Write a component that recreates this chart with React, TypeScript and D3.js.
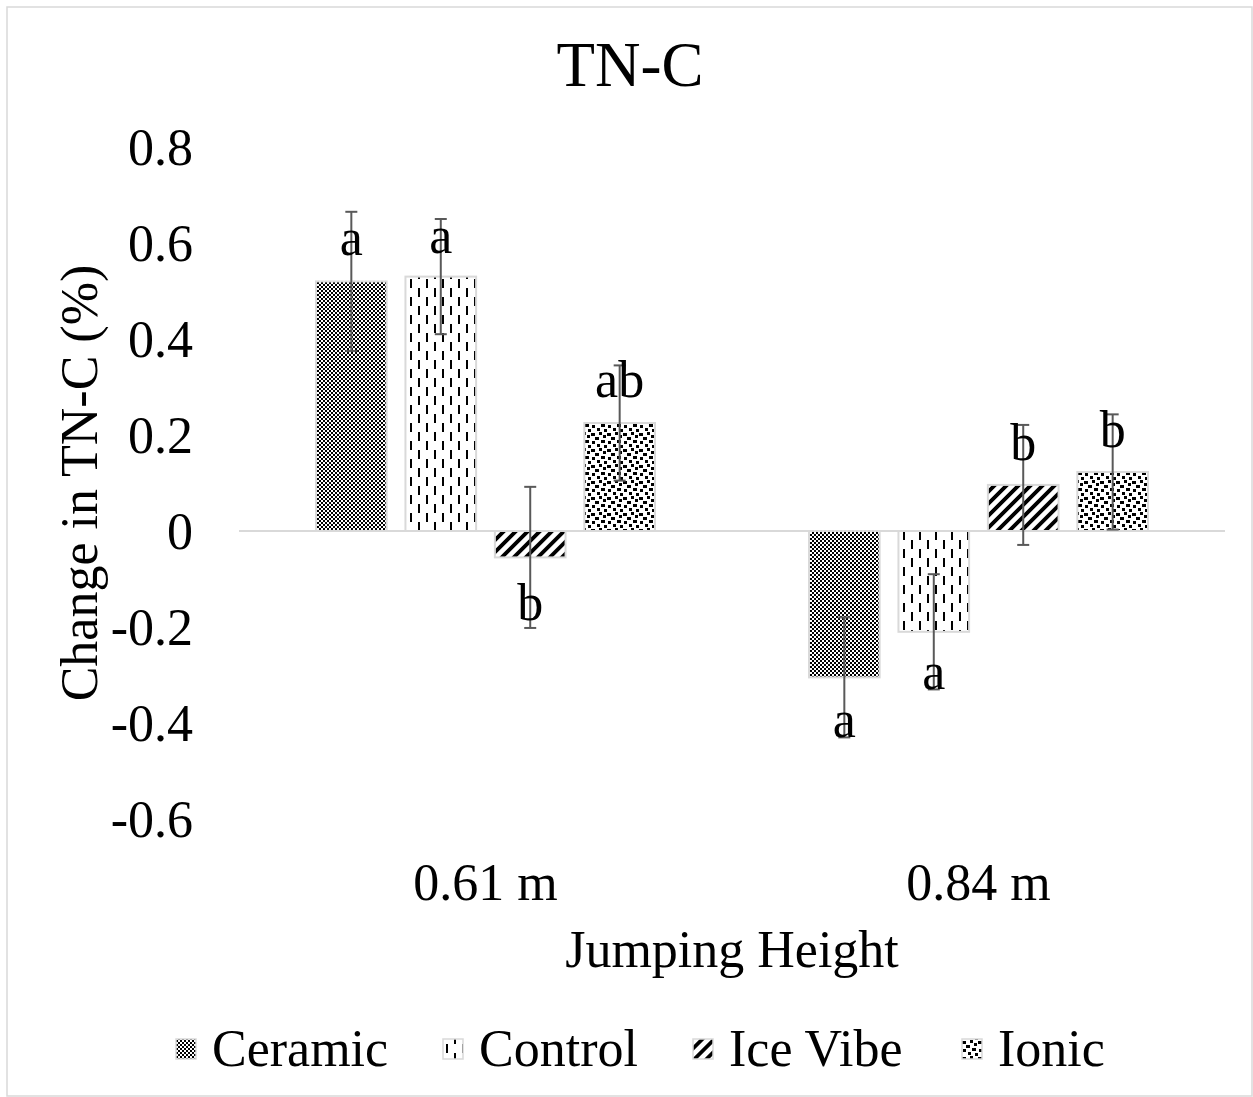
import React, { useEffect } from "react";
import * as d3 from "d3";

const groups = ["0.61 m", "0.84 m"];
const seriesNames = ["Ceramic", "Control", "Ice Vibe", "Ionic"];
const ceramic = [0.52, -0.305];
const control = [0.53, -0.21];
const iceVibe = [-0.055, 0.096];
const ionic = [0.225, 0.123];
const ceramicErr = [0.145, 0.125];
const controlErr = [0.12, 0.12];
const iceVibeErr = [0.147, 0.125];
const ionicErr = [0.12, 0.12];
const ceramicSig = ["a", "a"];
const controlSig = ["a", "a"];
const iceVibeSig = ["b", "b"];
const ionicSig = ["ab", "b"];
// letter baseline positions in data units
const ceramicSigAt = [0.575, -0.43];
const controlSigAt = [0.58, -0.33];
const iceVibeSigAt = [-0.185, 0.148];
const ionicSigAt = [0.28, 0.175];
const yTicks = [-0.6, -0.4, -0.2, 0, 0.2, 0.4, 0.6, 0.8];
const title = "TN-C";
const xTitle = "Jumping Height";
const yTitle = "Change in TN-C (%)";

const seriesValues = [ceramic, control, iceVibe, ionic];
const seriesErrs = [ceramicErr, controlErr, iceVibeErr, ionicErr];
const seriesSig = [ceramicSig, controlSig, iceVibeSig, ionicSig];
const seriesSigAt = [ceramicSigAt, controlSigAt, iceVibeSigAt, ionicSigAt];
const patternIds = ["pCeramic", "pControl", "pIce", "pIonic"];

const FONT = "'Liberation Serif', 'Times New Roman', serif";
const W = 1253;
const H = 1097;

export default function App() {
  useEffect(() => {
    document.body.style.margin = "0";
  }, []);

  const x0 = d3.scaleBand<string>().domain(groups).range([239, 1225]).padding(0);
  const inner = 339;
  const off = (x0.bandwidth() - inner) / 2;
  const x1 = d3
    .scaleBand<string>()
    .domain(seriesNames)
    .range([off, off + inner])
    .paddingInner(0.21)
    .paddingOuter(0);
  const y = d3.scaleLinear().domain([-0.6, 0.8]).range([819, 147]);
  const fmt = (v: number) => (v === 0 ? "0" : d3.format(".1f")(v).replace("\u2212", "-"));

  const legendX = [176, 443, 693, 962];

  return (
    <svg width={W} height={H} style={{ display: "block", background: "#fff" }} fontFamily={FONT}>
      <defs>
        <pattern id="pCeramic" width="4" height="4" patternUnits="userSpaceOnUse">
          <rect width="4" height="4" fill="#fff" />
          <rect x="0" y="0" width="2" height="2" fill="#000" />
          <rect x="2" y="2" width="2" height="2" fill="#000" />
        </pattern>
        <pattern id="pControl" width="16" height="18" patternUnits="userSpaceOnUse">
          <rect width="16" height="18" fill="#fff" />
          <rect x="3" y="0" width="2" height="9" fill="#000" />
          <rect x="11" y="9" width="2" height="9" fill="#000" />
        </pattern>
        <pattern
          id="pIce"
          width="8.5"
          height="8.5"
          patternUnits="userSpaceOnUse"
          patternTransform="rotate(45)"
        >
          <rect width="8.5" height="8.5" fill="#fff" />
          <rect x="0" y="0" width="3.8" height="8.5" fill="#000" />
        </pattern>
        <pattern id="pIonic" width="16" height="16" patternUnits="userSpaceOnUse">
          <rect width="16" height="16" fill="#fff" />
          <rect x="0" y="1" width="4" height="3" fill="#000" />
          <rect x="8" y="0" width="3" height="3" fill="#000" />
          <rect x="12" y="3" width="3" height="3" fill="#000" />
          <rect x="4" y="5" width="4" height="3" fill="#000" />
          <rect x="10" y="8" width="4" height="3" fill="#000" />
          <rect x="1" y="9" width="3" height="3" fill="#000" />
          <rect x="6" y="12" width="3" height="3" fill="#000" />
          <rect x="13" y="13" width="3" height="3" fill="#000" />
        </pattern>
      </defs>

      <rect x={7} y={7} width={W - 8} height={H - 8} fill="none" stroke="#d9d9d9" strokeWidth={1.5} />

      <text x={630} y={86} textAnchor="middle" fontSize={63} fill="#000">
        {title}
      </text>

      {yTicks.map((t) => (
        <text key={t} x={193} y={y(t) + 18} textAnchor="end" fontSize={52} fill="#000">
          {fmt(t)}
        </text>
      ))}

      <line x1={239} x2={1225} y1={y(0)} y2={y(0)} stroke="#d9d9d9" strokeWidth={2} />

      {groups.map((g, gi) => (
        <g key={g} transform={`translate(${x0(g)},0)`}>
          {seriesNames.map((s, si) => {
            const v = seriesValues[si][gi];
            const bx = x1(s) as number;
            const bw = x1.bandwidth();
            return (
              <rect
                key={s}
                x={bx}
                y={Math.min(y(v), y(0))}
                width={bw}
                height={Math.abs(y(v) - y(0))}
                fill={`url(#${patternIds[si]})`}
                stroke="#d9d9d9"
                strokeWidth={2}
              />
            );
          })}
          {seriesNames.map((s, si) => {
            const v = seriesValues[si][gi];
            const e = seriesErrs[si][gi];
            const cx = (x1(s) as number) + x1.bandwidth() / 2;
            return (
              <g key={s + "e"} stroke="#595959" strokeWidth={2}>
                <line x1={cx} x2={cx} y1={y(v + e)} y2={y(v - e)} />
                <line x1={cx - 6} x2={cx + 6} y1={y(v + e)} y2={y(v + e)} />
                <line x1={cx - 6} x2={cx + 6} y1={y(v - e)} y2={y(v - e)} />
              </g>
            );
          })}
          {seriesNames.map((s, si) => {
            const cx = (x1(s) as number) + x1.bandwidth() / 2;
            return (
              <text
                key={s + "t"}
                x={cx}
                y={y(seriesSigAt[si][gi])}
                textAnchor="middle"
                fontSize={52}
                fill="#000"
              >
                {seriesSig[si][gi]}
              </text>
            );
          })}
          <text
            x={x0.bandwidth() / 2}
            y={900}
            textAnchor="middle"
            fontSize={52}
            fill="#000"
          >
            {g}
          </text>
        </g>
      ))}

      <text x={732} y={967} textAnchor="middle" fontSize={52} fill="#000">
        {xTitle}
      </text>

      <text
        transform={`translate(97,${(y(0.8) + y(-0.6)) / 2}) rotate(-90)`}
        textAnchor="middle"
        fontSize={52}
        fill="#000"
      >
        {yTitle}
      </text>

      {seriesNames.map((s, si) => (
        <g key={s + "L"} transform={`translate(${legendX[si]},0)`}>
          <rect
            x={0}
            y={1039}
            width={20}
            height={20}
            fill={`url(#${patternIds[si]})`}
            stroke="#d9d9d9"
            strokeWidth={1.5}
          />
          <text x={36} y={1066} fontSize={52} fill="#000">
            {s}
          </text>
        </g>
      ))}
    </svg>
  );
}
